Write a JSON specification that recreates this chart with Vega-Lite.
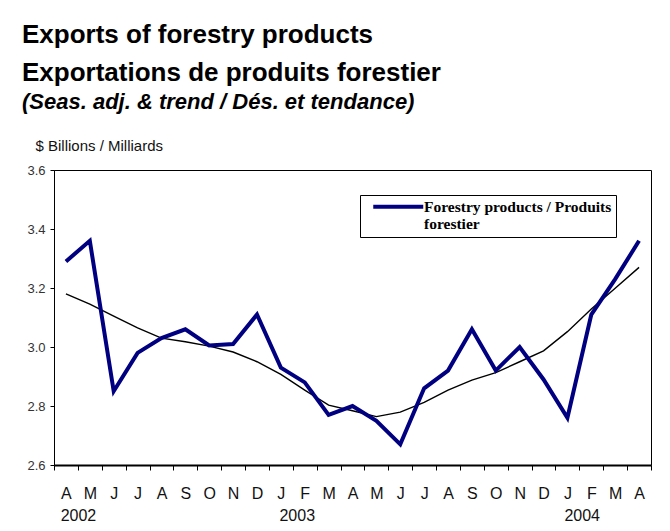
{
  "$schema": "https://vega.github.io/schema/vega-lite/v6.json",
  "width": 597,
  "height": 295,
  "autosize": {"type": "none"},
  "padding": {"left": 54, "top": 170, "right": 19, "bottom": 66},
  "background": "white",
  "title": {
    "text": ["Exports of forestry  products", "Exportations de produits forestier"],
    "subtitle": "(Seas. adj. & trend / Dés. et tendance)",
    "anchor": "start",
    "frame": "group",
    "dx": -32,
    "offset": 25,
    "font": "Liberation Sans",
    "fontSize": 26,
    "fontWeight": "bold",
    "color": "black",
    "lineHeight": 38,
    "subtitleFont": "Liberation Sans",
    "subtitleFontSize": 22,
    "subtitleFontWeight": "bold",
    "subtitleFontStyle": "italic",
    "subtitleColor": "black",
    "subtitlePadding": 6
  },
  "config": {
    "view": {"stroke": "black", "strokeWidth": 1},
    "axis": {"labelFont": "Liberation Sans", "titleFont": "Liberation Sans"}
  },
  "data": {
    "values": [
      {"month": "2002-04", "sa": 3.29, "trend": 3.18, "series": "Forestry products / Produits forestier"},
      {"month": "2002-05", "sa": 3.36, "trend": 3.145, "series": "Forestry products / Produits forestier"},
      {"month": "2002-06", "sa": 2.85, "trend": 3.105, "series": "Forestry products / Produits forestier"},
      {"month": "2002-07", "sa": 2.98, "trend": 3.065, "series": "Forestry products / Produits forestier"},
      {"month": "2002-08", "sa": 3.03, "trend": 3.03, "series": "Forestry products / Produits forestier"},
      {"month": "2002-09", "sa": 3.06, "trend": 3.018, "series": "Forestry products / Produits forestier"},
      {"month": "2002-10", "sa": 3.005, "trend": 3.003, "series": "Forestry products / Produits forestier"},
      {"month": "2002-11", "sa": 3.01, "trend": 2.983, "series": "Forestry products / Produits forestier"},
      {"month": "2002-12", "sa": 3.11, "trend": 2.95, "series": "Forestry products / Produits forestier"},
      {"month": "2003-01", "sa": 2.93, "trend": 2.907, "series": "Forestry products / Produits forestier"},
      {"month": "2003-02", "sa": 2.88, "trend": 2.854, "series": "Forestry products / Produits forestier"},
      {"month": "2003-03", "sa": 2.77, "trend": 2.803, "series": "Forestry products / Produits forestier"},
      {"month": "2003-04", "sa": 2.80, "trend": 2.784, "series": "Forestry products / Produits forestier"},
      {"month": "2003-05", "sa": 2.75, "trend": 2.764, "series": "Forestry products / Produits forestier"},
      {"month": "2003-06", "sa": 2.67, "trend": 2.779, "series": "Forestry products / Produits forestier"},
      {"month": "2003-07", "sa": 2.86, "trend": 2.812, "series": "Forestry products / Produits forestier"},
      {"month": "2003-08", "sa": 2.92, "trend": 2.854, "series": "Forestry products / Produits forestier"},
      {"month": "2003-09", "sa": 3.06, "trend": 2.888, "series": "Forestry products / Produits forestier"},
      {"month": "2003-10", "sa": 2.92, "trend": 2.913, "series": "Forestry products / Produits forestier"},
      {"month": "2003-11", "sa": 3.00, "trend": 2.95, "series": "Forestry products / Produits forestier"},
      {"month": "2003-12", "sa": 2.89, "trend": 2.987, "series": "Forestry products / Produits forestier"},
      {"month": "2004-01", "sa": 2.76, "trend": 3.052, "series": "Forestry products / Produits forestier"},
      {"month": "2004-02", "sa": 3.11, "trend": 3.129, "series": "Forestry products / Produits forestier"},
      {"month": "2004-03", "sa": 3.23, "trend": 3.199, "series": "Forestry products / Produits forestier"},
      {"month": "2004-04", "sa": 3.36, "trend": 3.27, "series": "Forestry products / Produits forestier"}
    ]
  },
  "encoding": {
    "x": {
      "field": "month",
      "type": "ordinal",
      "sort": null,
      "scale": {"paddingInner": 0, "paddingOuter": 0},
      "axis": {
        "title": null,
        "labelAngle": 0,
        "tickBand": "extent",
        "tickSize": 5,
        "tickColor": "black",
        "labelPadding": 15,
        "labelFontSize": 16,
        "labelColor": "#111111",
        "labelLineHeight": 22,
        "labelBaseline": "top",
        "domainColor": "black",
        "domainWidth": 2,
        "labelExpr": "datum.value == '2002-04' ? ['A', '\u200b\u2002\u2002\u20022002'] : datum.value == '2003-02' ? ['F', '2003\u2002\u2002\u200b'] : datum.value == '2004-02' ? ['F', '2004\u2002\u2002\u2009\u200b'] : substring('JFMAMJJASOND', toNumber(substring(datum.value, 5, 7)) - 1, toNumber(substring(datum.value, 5, 7)))"
      }
    }
  },
  "layer": [
    {
      "mark": {"type": "line", "color": "black", "strokeWidth": 1.4},
      "encoding": {
        "y": {
          "field": "trend",
          "type": "quantitative",
          "scale": {"domain": [2.6, 3.6], "zero": false, "nice": false},
          "axis": {
            "title": "$ Billions / Milliards",
            "titleAngle": 0,
            "titleAlign": "left",
            "titleBaseline": "alphabetic",
            "titleX": -19,
            "titleY": -20,
            "titleFontSize": 15,
            "titleFontWeight": "normal",
            "titleColor": "#111111",
            "values": [2.6, 2.8, 3.0, 3.2, 3.4, 3.6],
            "format": ".1f",
            "grid": false,
            "tickSize": 4,
            "tickColor": "black",
            "labelFontSize": 13,
            "labelColor": "#333333",
            "labelPadding": 5,
            "domainColor": "black"
          }
        }
      }
    },
    {
      "mark": {"type": "line", "strokeWidth": 4},
      "encoding": {
        "y": {"field": "sa", "type": "quantitative"},
        "color": {
          "field": "series",
          "type": "nominal",
          "scale": {"domain": ["Forestry products / Produits forestier"], "range": ["#000080"]},
          "legend": {
            "title": null,
            "orient": "none",
            "legendX": 306,
            "legendY": 25,
            "strokeColor": "black",
            "fillColor": "white",
            "padding": 4,
            "symbolType": "M-5,0H5",
            "symbolStrokeWidth": 4,
            "symbolSize": 100,
            "symbolOffset": 26.5,
            "labelFont": "Liberation Serif",
            "labelFontSize": 15.5,
            "labelFontWeight": "bold",
            "labelColor": "black",
            "labelLimit": 400,
            "labelOffset": 18,
            "labelExpr": "['Forestry products / Produits', 'forestier']"
          }
        }
      }
    }
  ]
}
